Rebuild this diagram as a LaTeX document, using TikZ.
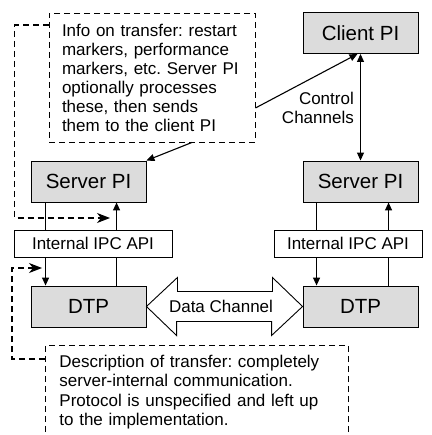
\documentclass[tikz,border=0pt]{standalone}
\usepackage{fontspec}
\setmainfont{Liberation Sans}
\usetikzlibrary{arrows.meta}
\definecolor{boxgray}{RGB}{220,220,220}
\frenchspacing
\begin{document}
\begin{tikzpicture}[x=1pt,y=-1pt,
  pibox/.style={draw,line width=0.9pt,fill=boxgray,minimum width=115pt,minimum height=41pt,inner sep=0pt,font=\fontsize{20.5}{24}\selectfont},
  ipcbox/.style={draw,line width=0.9pt,fill=white,minimum height=27pt,inner sep=0pt,font=\fontsize{17}{20}\selectfont},
  note/.style={draw,line width=0.9pt,dash pattern=on 6pt off 4pt,align=left,inner xsep=13pt},
  lbl/.style={inner sep=0pt,font=\fontsize{17}{19.5}\selectfont},
  conn/.style={line width=1.1pt,-{Triangle[length=8pt,width=7pt]}},
  dconn/.style={line width=1.1pt,dash pattern=on 6pt off 4pt,-{Stealth[length=13pt,width=10pt,inset=4pt]}}
]
\useasboundingbox (0,0) rectangle (431,435);
% boxes
\node[pibox] (client) at (360.5,33) {Client PI};
\node[pibox] (srvL) at (88.5,181.5) {Server PI};
\node[pibox] (srvR) at (360.5,181.5) {Server PI};
\node[pibox] (dtpL) at (88.5,306.5) {DTP};
\node[pibox] (dtpR) at (360.5,306.5) {DTP};
% notes
\node[note,minimum width=206pt,minimum height=129pt,text width=180pt,font=\fontsize{17}{19}\selectfont\frenchspacing] (info) at (152,77.5)
  {Info on transfer: restart\\markers, performance\\markers, etc. Server PI\\optionally processes\\these, then sends\\them to the client PI};
\node[note,anchor=north west,inner xsep=14pt,inner ysep=9.6pt,text width=275pt,font=\fontsize{17}{19.5}\selectfont\frenchspacing] (desc) at (45,345)
  {Description of transfer: completely\\server-internal communication.\\Protocol is unspecified and left up\\to the implementation.};
% vertical connectors
\draw[conn] ([xshift=15pt]srvL.south west) -- ([xshift=15pt]dtpL.north west);
\draw[conn] ([xshift=86pt]dtpL.north west) -- ([xshift=86pt]srvL.south west);
\draw[conn] ([xshift=14pt]srvR.south west) -- ([xshift=14pt]dtpR.north west);
\draw[conn] ([xshift=86pt]dtpR.north west) -- ([xshift=86pt]srvR.south west);
\draw[conn,{Triangle[length=8pt,width=7pt]}-{Triangle[length=8pt,width=7pt]}] (client.south) -- (srvR.north);
\node[lbl,anchor=east,align=right] (ctl) at (354,108) {Control\\Channels};
% info arrows
\draw[conn] ([yshift=-30.5pt]info.east) -- ([xshift=-3pt]client.south);
\draw[conn] ([xshift=40pt]info.south) -- (srvL.north east);
% IPC boxes on top
\node[ipcbox,minimum width=158pt] (ipcL) at (93,243.5) {Internal IPC API};
\node[ipcbox,minimum width=148pt] (ipcR) at (348,243.5) {Internal IPC API};
% data channel
\draw[line width=0.9pt,fill=white] (dtpL.east) -- ++(31,-29) -- ++(0,14) -- ++(95,0) -- ++(0,-14)
  -- (dtpR.west) -- ++(-31,29) -- ++(0,-14) -- ++(-95,0) -- ++(0,14) -- cycle;
\node[lbl] (data) at (221,306.5) {Data Channel};
% dashed connectors
\coordinate (d1end) at (110,218);
\coordinate (d2end) at (42,268);
\draw[dconn] ([yshift=52.5pt]info.west) -- ++(-34,0) -- ++(0,193) -- (d1end);
\draw[dconn] ([yshift=-14pt]desc.north west) -- ++(-33,0) -- ++(0,-91) -- (d2end);
\end{tikzpicture}
\end{document}
